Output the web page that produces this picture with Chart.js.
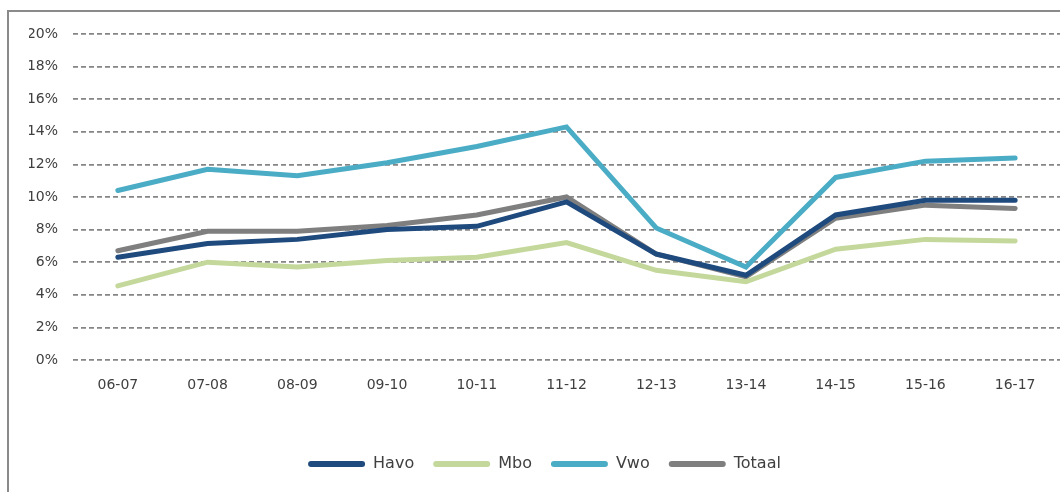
<!DOCTYPE html>
<html>
<head>
<meta charset="utf-8">
<script src="https://cdn.jsdelivr.net/npm/chart.js@4.4.1/dist/chart.umd.min.js"></script>
<style>
    html, body { margin: 0; padding: 0; background: #fff; overflow: hidden; }
    .frame { position: absolute; left: 7px; top: 10px; width: 1100px; height: 520px; border-left: 2px solid #8a8a8a; border-top: 2px solid #8a8a8a; }
    .wrap { position: absolute; left: 0; top: 0; width: 1060px; height: 492px; }
</style>
</head>
<body>
<div class="frame"></div>
<div class="wrap"><canvas id="chart" width="1060" height="492"></canvas></div>
<script>
// schooljaren
const categories = ['06-07', '07-08', '08-09', '09-10', '10-11', '11-12', '12-13', '13-14', '14-15', '15-16', '16-17'];

// percentages per onderwijstype
const havo   = [6.3, 7.15, 7.4, 8.0, 8.2, 9.7, 6.5, 5.2, 8.9, 9.8, 9.8];
const mbo    = [4.55, 6.0, 5.7, 6.1, 6.3, 7.2, 5.5, 4.8, 6.8, 7.4, 7.3];
const vwo    = [10.4, 11.7, 11.3, 12.1, 13.1, 14.3, 8.1, 5.7, 11.2, 12.2, 12.4];
const totaal = [6.7, 7.9, 7.9, 8.25, 8.9, 10.0, 6.5, 5.1, 8.7, 9.5, 9.3];

const yTicks = [0, 2, 4, 6, 8, 10, 12, 14, 16, 18, 20];

const textColor = '#404040';
const font = 'DejaVu Sans';

function series(label, data, color) {
    return {
        label: label,
        data: data,
        borderColor: color,
        backgroundColor: color,
        borderWidth: 5,
        pointRadius: 0,
        pointHoverRadius: 0,
        tension: 0,
        borderCapStyle: 'round',
        borderJoinStyle: 'miter'
    };
}

new Chart(document.getElementById('chart'), {
    type: 'line',
    data: {
        labels: categories,
        datasets: [
            series('Havo', havo, '#1f4a7e'),
            series('Mbo', mbo, '#c4d89c'),
            series('Vwo', vwo, '#4bacc6'),
            series('Totaal', totaal, '#7f7f7f')
        ]
    },
    options: {
        responsive: false,
        animation: false,
        devicePixelRatio: 1,
        layout: { padding: { left: 29, right: 0, top: 34, bottom: 10 } },
        plugins: {
            legend: {
                position: 'bottom',
                labels: {
                    boxWidth: 57,
                    boxHeight: 6,
                    padding: 19,
                    useBorderRadius: true,
                    borderRadius: 3,
                    color: textColor,
                    font: { family: font, size: 16 },
                    generateLabels: (chart) => {
                        const items = Chart.defaults.plugins.legend.labels.generateLabels(chart);
                        items.forEach(it => { it.lineWidth = 0; });
                        return items;
                    }
                }
            },
            tooltip: { enabled: false }
        },
        scales: {
            x: {
                offset: true,
                grid: { display: false, drawTicks: false },
                border: { display: false },
                ticks: { color: textColor, padding: 17, font: { family: font, size: 14 }, maxRotation: 0, autoSkip: false },
                afterFit: (scale) => { scale.height = 77; }
            },
            y: {
                min: 0,
                max: 20,
                afterBuildTicks: (scale) => { scale.ticks = yTicks.map(v => ({ value: v })); },
                afterFit: (scale) => { scale.width = 44; },
                grid: { color: '#858585', lineWidth: 1.8, drawTicks: false },
                border: { display: false, dash: [5, 3] },
                ticks: {
                    color: textColor,
                    padding: 15,
                    font: { family: font, size: 14 },
                    callback: (v) => v + '%'
                }
            }
        }
    }
});
</script>
</body>
</html>
